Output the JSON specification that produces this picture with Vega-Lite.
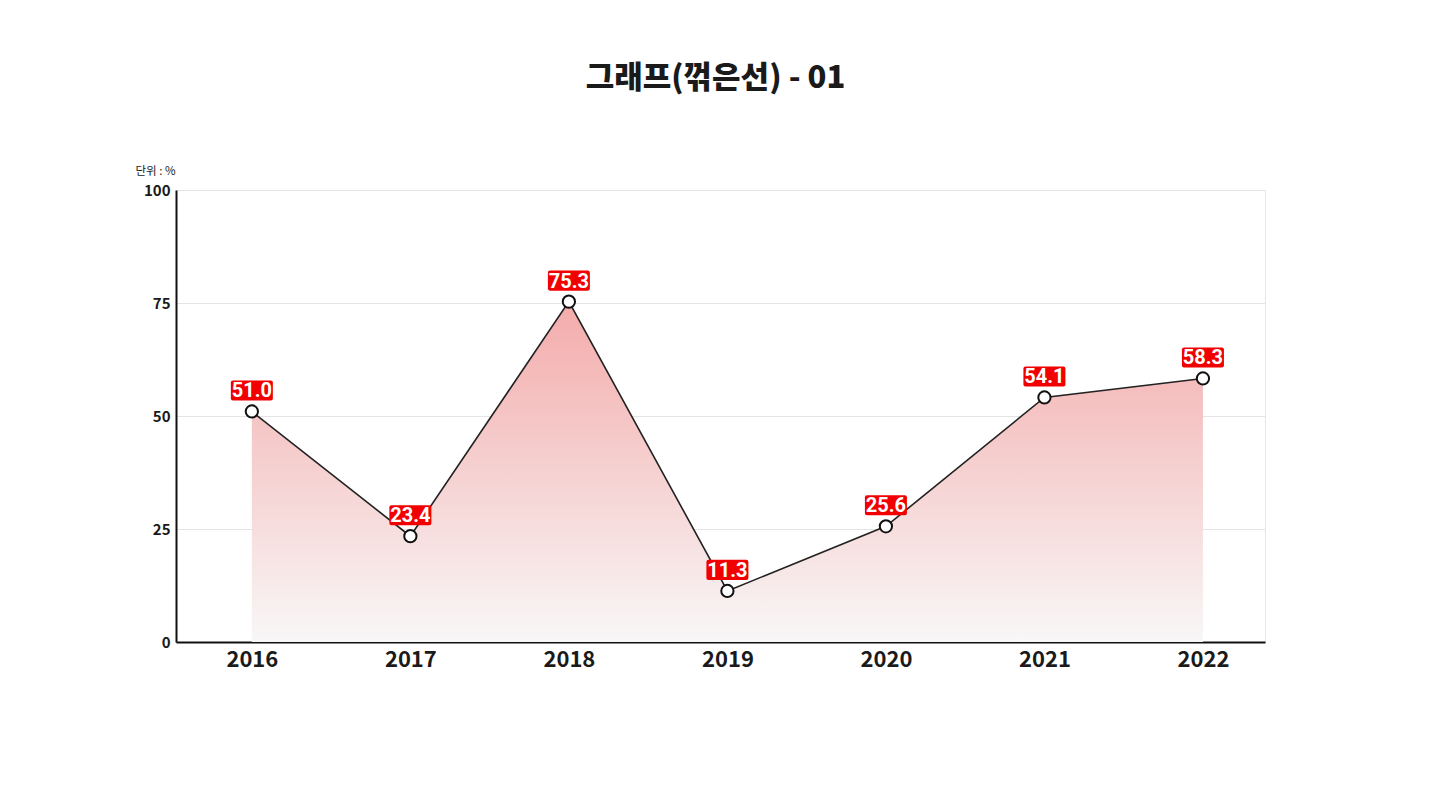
{
  "$schema": "https://vega.github.io/schema/vega-lite/v6.json",
  "width": 1089,
  "height": 452,
  "autosize": {"type": "none"},
  "padding": {"left": 176, "top": 190, "right": 165, "bottom": 162},
  "background": "white",
  "title": {
    "text": "그래프(꺾은선) - 01",
    "font": "Noto Sans CJK KR",
    "fontSize": 31,
    "fontWeight": 900,
    "color": "#1a1a1a",
    "anchor": "middle",
    "dx": -5,
    "offset": 70
  },
  "config": {
    "view": {"stroke": "#e6e6e6", "strokeWidth": 1},
    "font": "Noto Sans CJK KR"
  },
  "data": {
    "values": [
      {"year": "2016", "value": 51.0},
      {"year": "2017", "value": 23.4},
      {"year": "2018", "value": 75.3},
      {"year": "2019", "value": 11.3},
      {"year": "2020", "value": 25.6},
      {"year": "2021", "value": 54.1},
      {"year": "2022", "value": 58.3}
    ]
  },
  "encoding": {
    "x": {
      "field": "year",
      "type": "ordinal",
      "scale": {"type": "point", "padding": 0.435, "align": 0.55},
      "axis": {
        "title": null,
        "labelAngle": 0,
        "labelFont": "Noto Sans CJK KR",
        "labelFontSize": 22,
        "labelFontWeight": "bold",
        "labelColor": "#1a1a1a",
        "labelPadding": 7,
        "ticks": false,
        "domainColor": "#111111",
        "domainWidth": 2,
        "grid": false
      }
    },
    "y": {
      "field": "value",
      "type": "quantitative",
      "scale": {"domain": [0, 100], "nice": false},
      "axis": {
        "values": [0, 25, 50, 75, 100],
        "title": "단위 : %",
        "titleAngle": 0,
        "titleX": -41,
        "titleY": -19,
        "titleAlign": "left",
        "titleBaseline": "middle",
        "titleFont": "Noto Sans CJK KR",
        "titleFontSize": 11.5,
        "titleFontWeight": "normal",
        "titleColor": "#222222",
        "labelFont": "Noto Sans CJK KR",
        "labelFontSize": 15,
        "labelFontWeight": "bold",
        "labelColor": "#1a1a1a",
        "labelPadding": 6,
        "ticks": false,
        "domainColor": "#111111",
        "domainWidth": 2,
        "gridColor": "#e4e4e4",
        "gridWidth": 1
      }
    }
  },
  "layer": [
    {
      "mark": {
        "type": "area",
        "color": {
          "gradient": "linear",
          "x1": 1, "x2": 1, "y1": 0, "y2": 1,
          "stops": [
            {"offset": 0, "color": "#f4abab"},
            {"offset": 1, "color": "#f8f7f7"}
          ]
        }
      }
    },
    {
      "mark": {"type": "line", "color": "#222222", "strokeWidth": 1.6}
    },
    {
      "mark": {
        "type": "point",
        "filled": false,
        "fill": "white",
        "stroke": "#111111",
        "strokeWidth": 2,
        "opacity": 1,
        "size": 150
      }
    },
    {
      "mark": {
        "type": "point",
        "shape": "M-0.9,-0.48H0.9Q1,-0.48 1,-0.38V0.38Q1,0.48 0.9,0.48H-0.9Q-1,0.48 -1,0.38V-0.38Q-1,-0.48 -0.9,-0.48Z",
        "filled": true,
        "fill": "#f20000",
        "strokeWidth": 0,
        "opacity": 1,
        "size": 1764,
        "yOffset": -21
      }
    },
    {
      "mark": {
        "type": "text",
        "color": "white",
        "font": "Roboto",
        "fontSize": 20,
        "fontWeight": "bold",
        "baseline": "middle",
        "yOffset": -20
      },
      "encoding": {
        "text": {"field": "value", "type": "quantitative", "format": ".1f"}
      }
    }
  ]
}
